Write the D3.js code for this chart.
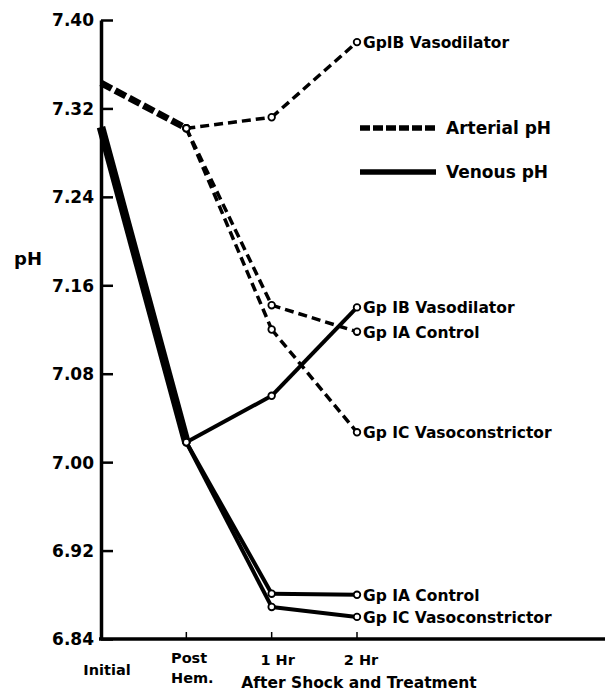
<!DOCTYPE html>
<html lang="en">
<head>
<meta charset="utf-8">
<title>pH after shock and treatment</title>
<script src="https://cdn.jsdelivr.net/npm/d3@7"></script>
<style>
  body { margin: 0; background: #fff; }
  text { font-family: "DejaVu Sans", sans-serif; font-weight: bold; fill: #000; }
</style>
</head>
<body>
<script>
// time points along the x axis
var times = ["Initial", "Post Hem.", "1 Hr", "2 Hr"];
// labels at the end of each line
var arterialLabels = ["GpIB Vasodilator", "Gp IA Control", "Gp IC Vasoconstrictor"];
var venousLabels = ["Gp IB Vasodilator", "Gp IA Control", "Gp IC Vasoconstrictor"];
// arterial pH, one row per group (IB, IA, IC)
var arterial = [
  [7.343, 7.302, 7.312, 7.380],
  [7.343, 7.302, 7.142, 7.118],
  [7.343, 7.302, 7.120, 7.027]
];
// venous pH
var venous = [
  [7.303, 7.018, 7.060, 7.140],
  [7.303, 7.018, 6.881, 6.880],
  [7.303, 7.018, 6.869, 6.860]
];
var yTicks = [6.84, 6.92, 7.00, 7.08, 7.16, 7.24, 7.32, 7.40];

var w = 605, h = 694;
var svg = d3.select("body").append("svg")
  .attr("width", w).attr("height", h);

var x = d3.scaleLinear().domain([0, 3]).range([101, 357]);
var y = d3.scaleLinear().domain([6.84, 7.40]).range([639, 20]);

// y axis, ticks pointing inwards
var yAxis = d3.axisLeft(y)
  .tickValues(yTicks)
  .tickFormat(d3.format(".2f"))
  .tickSizeInner(-12)
  .tickSizeOuter(0)
  .tickPadding(7);
var gy = svg.append("g").attr("transform", "translate(101,0)").call(yAxis);
gy.select(".domain").attr("stroke-width", 3.5);
gy.selectAll(".tick line").attr("stroke-width", 2.5);
gy.selectAll(".tick text").style("font-size", "17px").attr("dy", "0.35em");

// x axis line
svg.append("line")
  .attr("x1", 99).attr("x2", w).attr("y1", 639).attr("y2", 639)
  .attr("stroke", "#000").attr("stroke-width", 3.5);
svg.selectAll("line.xtick").data([1, 2, 3]).enter().append("line")
  .attr("class", "xtick")
  .attr("x1", function (d) { return x(d); }).attr("x2", function (d) { return x(d); })
  .attr("y1", 639).attr("y2", 632)
  .attr("stroke", "#000").attr("stroke-width", 1.5);

// x labels
var xl = "14.5px";
svg.append("text").attr("x", 107).attr("y", 675).attr("text-anchor", "middle")
  .style("font-size", xl).text(times[0]);
svg.append("text").attr("x", 171).attr("y", 663).style("font-size", xl).text("Post");
svg.append("text").attr("x", 171).attr("y", 683).style("font-size", xl).text("Hem.");
svg.append("text").attr("x", x(2) + 6).attr("y", 665).attr("text-anchor", "middle")
  .style("font-size", xl).text(times[2]);
svg.append("text").attr("x", x(3) + 4).attr("y", 665).attr("text-anchor", "middle")
  .style("font-size", xl).text(times[3]);
svg.append("text").attr("x", 359).attr("y", 688).attr("text-anchor", "middle")
  .style("font-size", "15.5px").text("After Shock and Treatment");

svg.append("text").attr("x", 14).attr("y", 265).style("font-size", "18px").text("pH");

// build segments, thicker where several groups share the same path
function segments(rows) {
  var map = new Map();
  rows.forEach(function (r) {
    for (var i = 0; i < r.length - 1; i++) {
      var k = i + ":" + r[i] + ":" + r[i + 1];
      if (!map.has(k)) map.set(k, { i: i, a: r[i], b: r[i + 1], n: 0 });
      map.get(k).n++;
    }
  });
  return Array.from(map.values());
}
var line = d3.line().x(function (d) { return x(d[0]); }).y(function (d) { return y(d[1]); });

function drawSeries(rows, dashed, base, extra) {
  svg.append("g").selectAll("path").data(segments(rows)).enter().append("path")
    .attr("d", function (s) { return line([[s.i, s.a], [s.i + 1, s.b]]); })
    .attr("fill", "none")
    .attr("stroke", "#000")
    .attr("stroke-width", function (s) { return base + extra * (s.n - 1); })
    .attr("stroke-dasharray", dashed ? function (s) { return s.n > 1 ? "12,4" : "9,5"; } : null);
  var pts = [];
  rows.forEach(function (r) { r.forEach(function (v, i) { if (i > 0) pts.push([i, v]); }); });
  svg.append("g").selectAll("circle").data(pts).enter().append("circle")
    .attr("cx", function (d) { return x(d[0]); })
    .attr("cy", function (d) { return y(d[1]); })
    .attr("r", 3.3)
    .attr("fill", "#fff").attr("stroke", "#000").attr("stroke-width", 1.8);
}
drawSeries(arterial, true, 3.5, 1.6);
drawSeries(venous, false, 4, 2.3);

// group labels at the 2 Hr points
function labels(rows, names) {
  svg.append("g").selectAll("text").data(rows).enter().append("text")
    .attr("x", x(3) + 6)
    .attr("y", function (r) { return y(r[3]); })
    .attr("dy", "0.38em")
    .style("font-size", "15.5px")
    .text(function (r, i) { return names[i]; });
}
labels(arterial, arterialLabels);
labels(venous, venousLabels);

// legend
var legend = [{ label: "Arterial pH", dash: "10,3", yy: 128 }, { label: "Venous pH", dash: null, yy: 172 }];
var lg = svg.append("g").selectAll("g").data(legend).enter().append("g");
lg.append("line").attr("x1", 360).attr("x2", 436)
  .attr("y1", function (d) { return d.yy; }).attr("y2", function (d) { return d.yy; })
  .attr("stroke", "#000").attr("stroke-width", 5.5)
  .attr("stroke-dasharray", function (d) { return d.dash; });
lg.append("text").attr("x", 446).attr("y", function (d) { return d.yy; }).attr("dy", "0.38em")
  .style("font-size", "17px").text(function (d) { return d.label; });
</script>
</body>
</html>
